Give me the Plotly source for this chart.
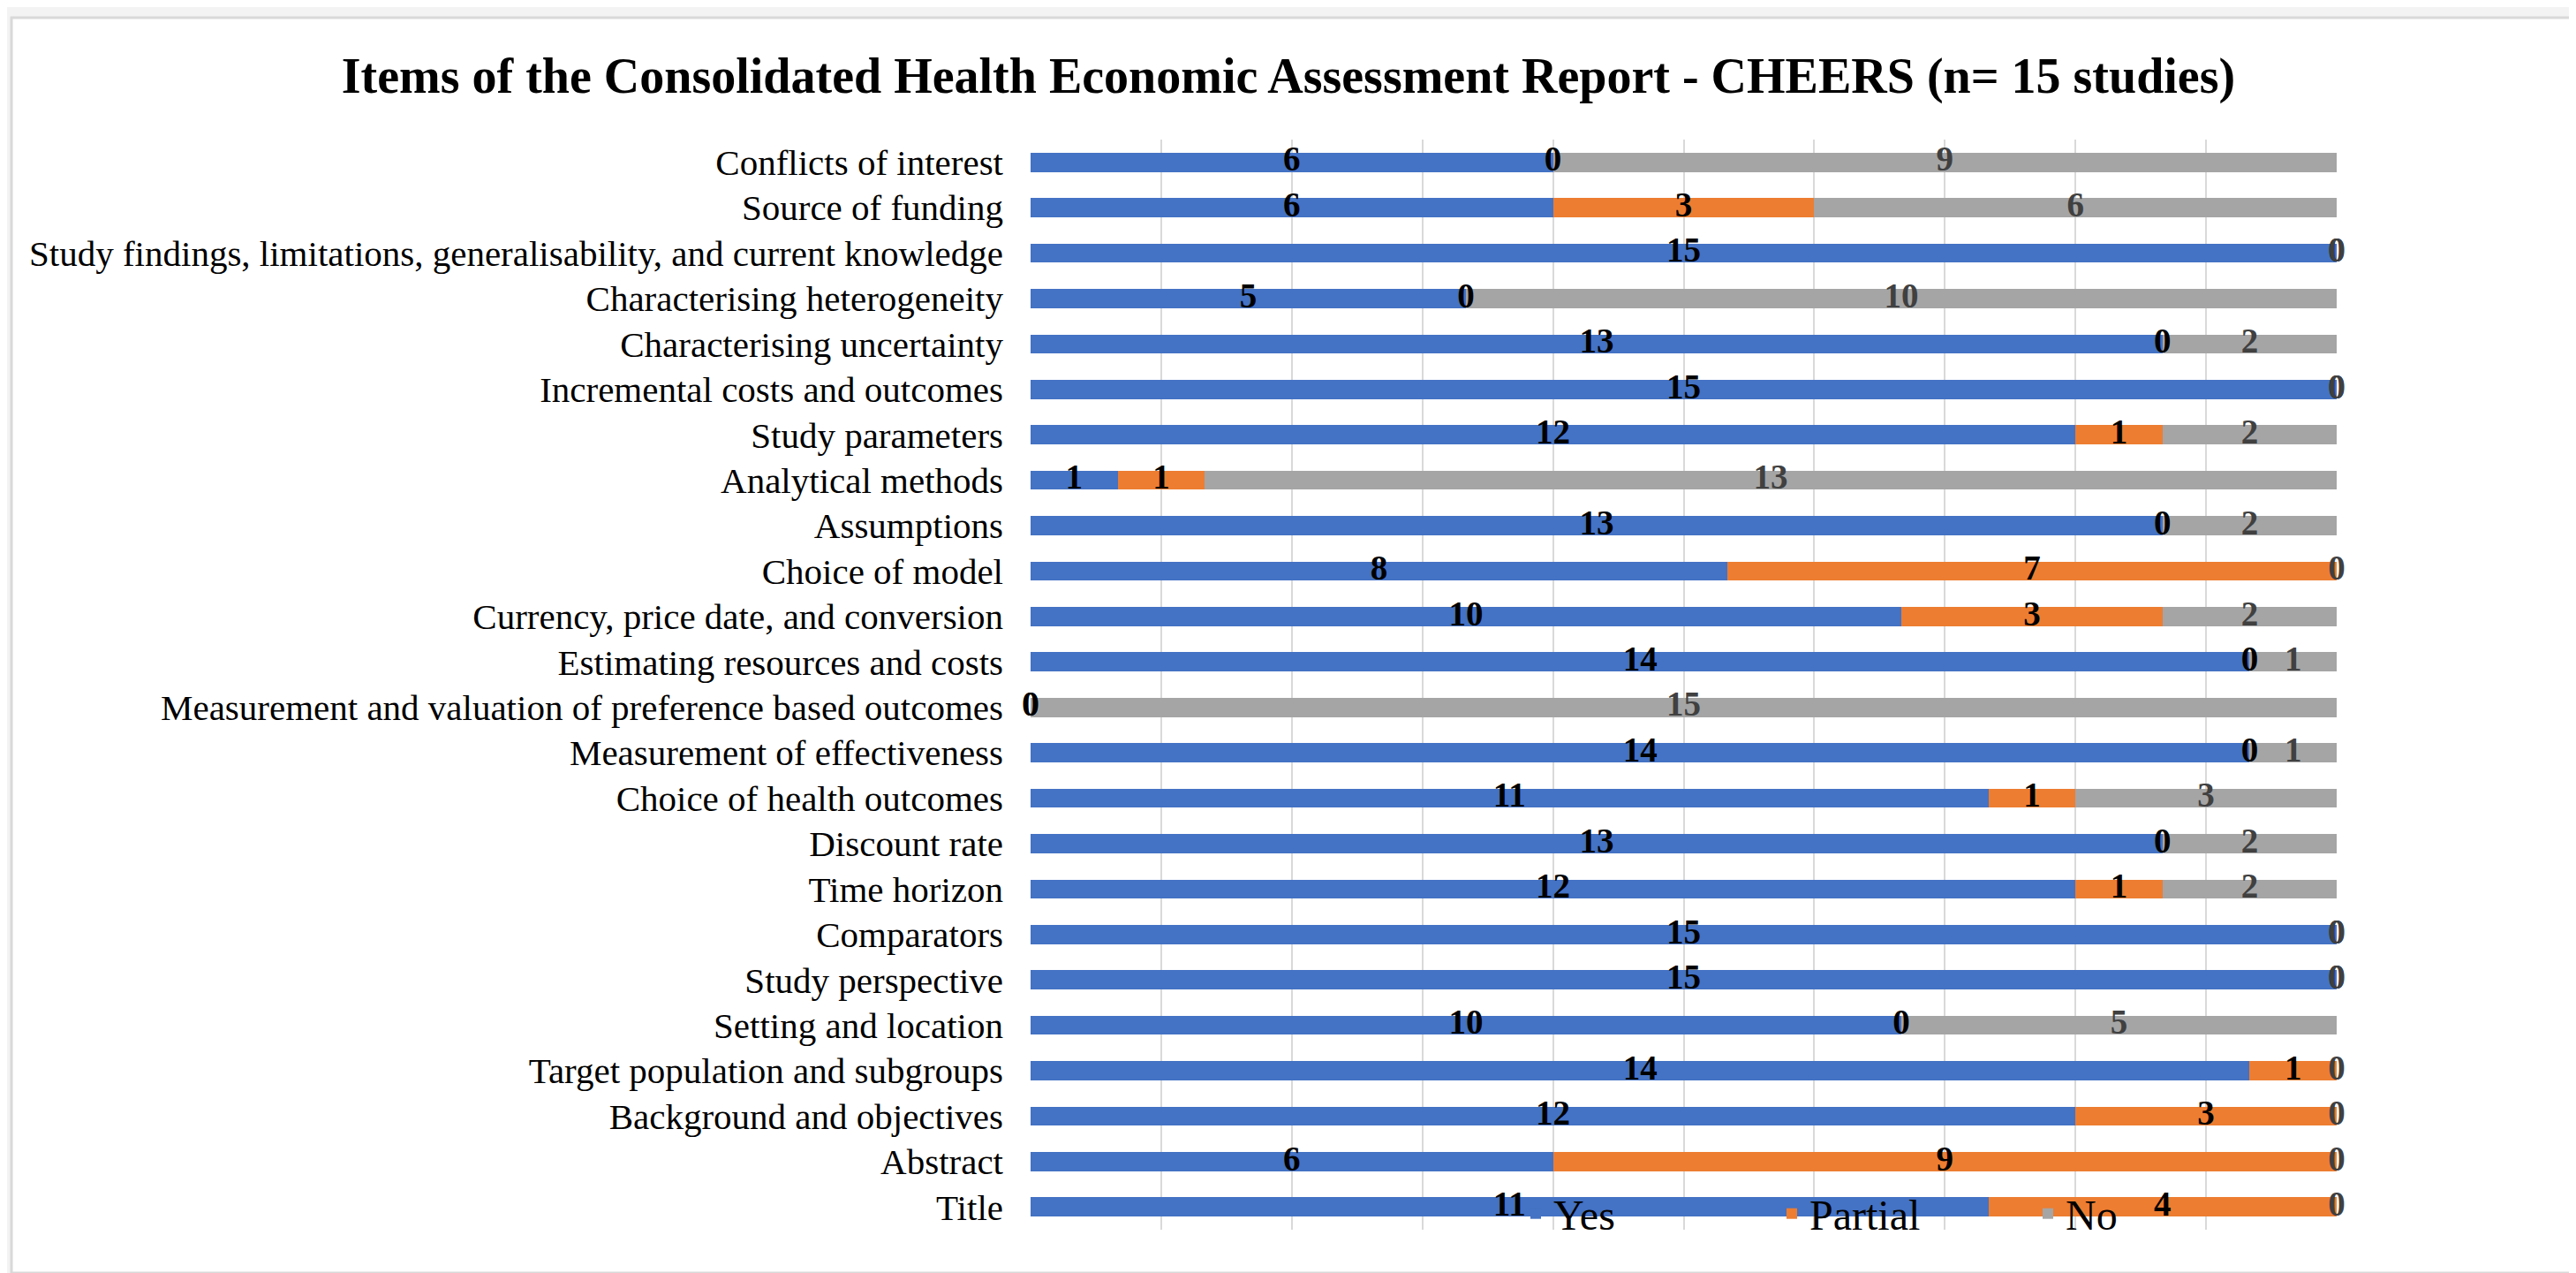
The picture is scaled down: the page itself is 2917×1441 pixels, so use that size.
import plotly.graph_objects as go

# Categories (bottom to top, CHEERS order)
categories = [
    "Title",
    "Abstract",
    "Background and objectives",
    "Target population and subgroups",
    "Setting and location",
    "Study perspective",
    "Comparators",
    "Time horizon",
    "Discount rate",
    "Choice of health outcomes",
    "Measurement of effectiveness",
    "Measurement and valuation of preference based outcomes",
    "Estimating resources and costs",
    "Currency, price date, and conversion",
    "Choice of model",
    "Assumptions",
    "Analytical methods",
    "Study parameters",
    "Incremental costs and outcomes",
    "Characterising uncertainty",
    "Characterising heterogeneity",
    "Study findings, limitations, generalisability, and current knowledge",
    "Source of funding",
    "Conflicts of interest",
]

yes_vals     = [11, 6, 12, 14, 10, 15, 15, 12, 13, 11, 14, 0, 14, 10, 8, 13, 1, 12, 15, 13, 5, 15, 6, 6]
partial_vals = [4, 9, 3, 1, 0, 0, 0, 1, 0, 1, 0, 0, 0, 3, 7, 0, 1, 1, 0, 0, 0, 0, 3, 0]
no_vals      = [0, 0, 0, 0, 5, 0, 0, 2, 2, 3, 1, 15, 1, 2, 0, 2, 13, 2, 0, 2, 10, 0, 6, 9]

series_names = ["Yes", "Partial", "No"]
series_colors = ["#4472C4", "#ED7D31", "#A5A5A5"]
label_colors = ["#000000", "#000000", "#404040"]

FONT = "Liberation Serif"
series_vals = [yes_vals, partial_vals, no_vals]

fig = go.Figure()
for name, vals, col in zip(series_names, series_vals, series_colors):
    fig.add_trace(go.Bar(
        y=categories, x=vals, name=name, orientation="h",
        marker=dict(color=col, line=dict(width=0)),
        hoverinfo="x+name",
    ))

# data labels (centred in each segment, also for zero-width segments)
totals = [a + b + c for a, b, c in zip(yes_vals, partial_vals, no_vals)]
starts = [0] * len(categories)
for name, vals, lc in zip(series_names, series_vals, label_colors):
    centres = []
    for i, v in enumerate(vals):
        centres.append((starts[i] + v / 2) / totals[i] * 100)
        starts[i] += v
    fig.add_trace(go.Scatter(
        y=categories, x=centres, mode="text",
        text=[f"<b>{v}</b>" for v in vals],
        textposition="middle center",
        textfont=dict(family=FONT, size=39, color=lc),
        showlegend=False, hoverinfo="skip", cliponaxis=False,
    ))

W, H = 2917, 1441
L, R, T, B = 1159, 279, 150, 57
pw = W - L - R
ph = H - T - B

def px_x(p):
    return (p - L) / pw

def px_y(p):
    return (H - B - p) / ph

fig.add_shape(type="rect", xref="paper", yref="paper",
              x0=px_x(5), x1=px_x(2906), y0=px_y(1433), y1=px_y(12),
              fillcolor="white", line=dict(color="#d9d9d9", width=3), layer="below")

fig.update_layout(
    width=W, height=H,
    barmode="stack", barnorm="percent", bargap=0.58,
    paper_bgcolor="#f3f3f3", plot_bgcolor="rgba(0,0,0,0)",
    margin=dict(l=L, r=R, t=T, b=B, pad=0),
    font=dict(family=FONT, size=41, color="#000000"),
    title=dict(
        text="<b>Items of the Consolidated Health Economic Assessment Report - CHEERS (n= 15 studies)</b>",
        x=1451 / W, xanchor="center", y=1 - 77 / H, yanchor="middle",
        font=dict(family=FONT, size=56, color="#000000"),
    ),
    xaxis=dict(range=[0, 100], dtick=10, showticklabels=False, showgrid=True,
               gridcolor="#d9d9d9", gridwidth=2, zeroline=False, showline=False,
               fixedrange=True),
    yaxis=dict(type="category", range=[-0.5, len(categories) - 0.5],
               showgrid=False, zeroline=False, showline=False,
               tickfont=dict(family=FONT, size=41, color="#000000"),
               ticks="", ticklabelstandoff=30, automargin=False),
    legend=dict(orientation="h", x=px_x(1711), xanchor="left",
                y=px_y(1366), yanchor="middle",
                font=dict(family=FONT, size=48, color="#000000"),
                bgcolor="rgba(0,0,0,0)", entrywidth=245, entrywidthmode="pixels",
                traceorder="normal"),
    showlegend=True,
)

fig.write_html("out.html")
